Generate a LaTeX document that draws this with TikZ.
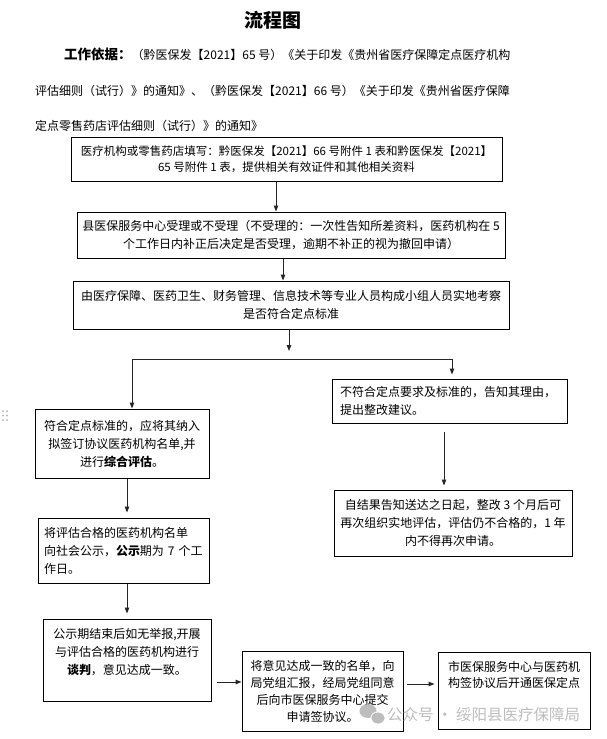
\documentclass[tikz,border=0pt]{standalone}
\usepackage{fontspec}
\setmainfont{Noto Sans CJK SC}
\usetikzlibrary{arrows.meta}
\begin{document}
\begin{tikzpicture}[x=1pt,y=-1pt,
  box/.style={draw=black, line width=1pt, inner xsep=4pt, inner ysep=2pt, align=center, font=\fontsize{12}{18}\selectfont},
  lbox/.style={box, align=left},
  arr/.style={draw=black!85, line width=1pt, -{Triangle[length=6pt,width=4.5pt]}},
  plain/.style={draw=black!85, line width=1pt},
  hdr/.style={anchor=west, inner sep=0pt, font=\fontsize{12}{14}\selectfont},
  wmark/.style={text=black!30, font=\fontsize{15.5}{18}\selectfont, inner sep=0pt},
]
\useasboundingbox[fill=white] (0,0) rectangle (606,739);

% header
\node[font=\bfseries\fontsize{19}{22}\selectfont] (title) at (273,20) {流程图};
\node[hdr] (l1) at (64,54) {{\bfseries\fontsize{13.5}{16}\selectfont 工作依据：}（黔医保发【2021】65 号）《关于印发《贵州省医疗保障定点医疗机构};
\node[hdr] (l2) at (35,91) {评估细则（试行）》的通知》、（黔医保发【2021】66 号）《关于印发《贵州省医疗保障};
\node[hdr] (l3) at (35,126) {定点零售药店评估细则（试行）》的通知》};

% boxes
\node[box, font=\fontsize{11.5}{16}\selectfont, minimum width=431pt, minimum height=44pt] (b1) at (286.5,159)
  {医疗机构或零售药店填写：黔医保发【2021】66 号附件 1 表和黔医保发【2021】\\65 号附件 1 表，提供相关有效证件和其他相关资料};
\node[box, minimum width=428pt, minimum height=46pt] (b2) at (291,235)
  {县医保服务中心受理或不受理（不受理的：一次性告知所差资料，医药机构在 5\\个工作日内补正后决定是否受理，逾期不补正的视为撤回申请）};
\node[box, minimum width=436pt, minimum height=48pt] (b3) at (291,305)
  {由医疗保障、医药卫生、财务管理、信息技术等专业人员构成小组人员实地考察\\是否符合定点标准};
\node[box, minimum width=174pt, minimum height=69pt] (b4) at (122,443.5)
  {符合定点标准的，应将其纳入\\拟签订协议医药机构名单,并\\进行\textbf{综合评估}。};
\node[lbox, inner xsep=8pt, text width=219pt, minimum height=44pt] (b5) at (449.5,401)
  {不符合定点要求及标准的，告知其理由，\\提出整改建议。};
\node[box, minimum width=238pt, minimum height=66pt] (b6) at (453,523)
  {自结果告知送达之日起，整改 3 个月后可\\再次组织实地评估，评估仍不合格的，1 年\\内不得再次申请。};
\node[lbox, inner xsep=6pt, text width=159pt, minimum height=65pt] (b7) at (123.5,550.5)
  {将评估合格的医药机构名单\\\mbox{向社会公示，\textbf{公示}期为~7~个工}\\作日。};
\node[box, minimum width=168pt, minimum height=82pt] (b8) at (127,660)
  {公示期结束后如无举报,开展\\与评估合格的医药机构进行\\\textbf{谈判}，意见达成一致。\\ \mbox{}};
\node[box, font=\fontsize{12}{17}\selectfont, minimum width=161pt, minimum height=80pt] (b9) at (322.5,691)
  {将意见达成一致的名单，向\\局党组汇报，经局党组同意\\后向市医保服务中心提交\\申请签协议。};
\node[box, font=\fontsize{12}{16}\selectfont, minimum width=152pt, minimum height=77pt] (b10) at (514,690.5)
  {市医保服务中心与医药机\\构签协议后开通医保定点\\ \mbox{}\\ \mbox{}};

% helper coordinates
\coordinate (x1) at (276,0);
\coordinate (x2) at (283,0);
\coordinate (x3) at (289,0);
\coordinate (x4) at (127,0);
\coordinate (x8) at (444,0);
\coordinate (y6) at (0,682);
\coordinate (y7) at (0,684);
\coordinate (a3end) at (289,351);
\coordinate (h1) at (132,359);
\coordinate (h2) at (452,359);

% connectors
\draw[arr] (b1.south -| x1) -- (b2.north -| x1);
\draw[arr] (b2.south -| x2) -- (b3.north -| x2);
\draw[arr] (b3.south -| x3) -- (a3end);
\draw[plain] (h1) -- (h2);
\draw[arr] (h1) -- (b4.north -| h1);
\draw[arr, shorten >=4pt] (h2) -- (b5.north -| h2);
\draw[arr, shorten >=5pt] (b4.south -| x4) -- (b7.north -| x4);
\draw[arr, shorten >=5pt] (b7.south -| x4) -- (b8.north -| x4);
\draw[arr, shorten <=8pt, shorten >=4pt] (b5.south -| x8) -- (b6.north -| x8);
\draw[arr, shorten <=5pt] (b8.east |- y6) -- (b9.west |- y6);
\draw[arr, shorten <=3pt, shorten >=3pt] (b9.east |- y7) -- (b10.west |- y7);

% side handle dots
\foreach \dx in {3,7} \foreach \dy in {411,415.5,420} \fill[black!30] (\dx,\dy) circle (1pt);

% watermark
\begin{scope}[opacity=0.85]
\fill[black!30] (368,711) ellipse (8.5pt and 7pt);
\fill[black!30, draw=white, line width=1pt] (378,718) ellipse (7pt and 6pt);
\node[wmark, anchor=west] (wm) at (387,715) {公众号 · 绥阳县医疗保障局};
\end{scope}
\end{tikzpicture}
\end{document}
